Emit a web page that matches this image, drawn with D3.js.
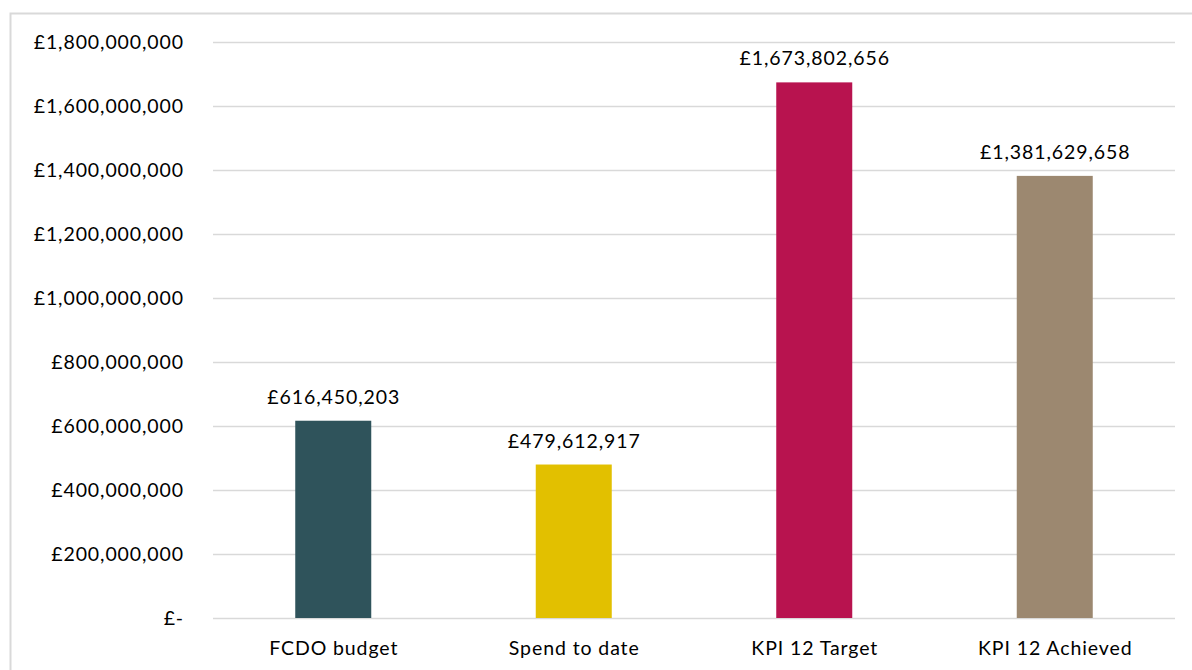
<!DOCTYPE html>
<html>
<head>
<meta charset="utf-8">
<script src="https://cdn.jsdelivr.net/npm/d3@7"></script>
<style>
  html, body { margin: 0; padding: 0; background: #fff; }
  svg { display: block; }
  text { font-family: Lato, "Open Sans", sans-serif; fill: #000; letter-spacing: 0.9px; }
</style>
</head>
<body>
<svg id="chart" width="1192" height="670"></svg>
<script>
// Programme finance figures
const categories = ["FCDO budget", "Spend to date", "KPI 12 Target", "KPI 12 Achieved"];
const values = [616450203, 479612917, 1673802656, 1381629658];
const barColors = ["#2F535B", "#E2C000", "#B8134F", "#9C8870"];
const yTicks = [0, 200000000, 400000000, 600000000, 800000000, 1000000000,
                1200000000, 1400000000, 1600000000, 1800000000];

const svg = d3.select("#chart");
const W = 1192, H = 670;
const plot = { left: 213, right: 1175, top: 42, bottom: 618 };
const FONT = "19.5px";

// Outer chart frame
svg.append("rect")
  .attr("x", 10.5).attr("y", 13.5)
  .attr("width", W + 10).attr("height", H + 10)
  .attr("fill", "none").attr("stroke", "#d9d9d9").attr("stroke-width", 2);

const x = d3.scaleBand().domain(categories)
  .range([plot.left, plot.right]).paddingInner(0.684).paddingOuter(0.342);
const y = d3.scaleLinear().domain([0, 1800000000]).range([plot.bottom, plot.top]);

const money = v => v === 0 ? "£-" : "£" + d3.format(",")(v);

// Horizontal gridlines
svg.append("g").selectAll("line").data(yTicks).join("line")
  .attr("x1", plot.left).attr("x2", plot.right)
  .attr("y1", d => Math.round(y(d)) + 0.5).attr("y2", d => Math.round(y(d)) + 0.5)
  .attr("stroke", "#d9d9d9").attr("stroke-width", 1.5);

// Y axis labels
const yAxis = svg.append("g")
  .attr("transform", `translate(${plot.left - 29},0)`)
  .call(d3.axisLeft(y).tickValues(yTicks).tickFormat(money).tickSize(0).tickPadding(0));
yAxis.select(".domain").remove();
yAxis.selectAll("text")
  .style("font-family", "Lato, 'Open Sans', sans-serif")
  .style("font-size", FONT).attr("fill", "#000").attr("dy", "0.35em");

// Bars
svg.append("g").selectAll("rect").data(categories).join("rect")
  .attr("x", d => x(d)).attr("width", x.bandwidth())
  .attr("y", (d, i) => y(values[i]))
  .attr("height", (d, i) => plot.bottom - y(values[i]))
  .attr("fill", (d, i) => barColors[i]);

// Value labels
svg.append("g").selectAll("text").data(categories).join("text")
  .attr("x", d => x(d) + x.bandwidth() / 2 + 0.5)
  .attr("y", (d, i) => y(values[i]) - 17)
  .attr("text-anchor", "middle")
  .style("font-size", FONT)
  .text((d, i) => money(values[i]));

// Category axis
const xAxis = svg.append("g")
  .attr("transform", `translate(0.5,${plot.bottom})`)
  .call(d3.axisBottom(x).tickSize(0).tickPadding(23));
xAxis.select(".domain").remove();
xAxis.selectAll("text")
  .style("font-family", "Lato, 'Open Sans', sans-serif")
  .style("font-size", FONT).attr("fill", "#000");
</script>
</body>
</html>
